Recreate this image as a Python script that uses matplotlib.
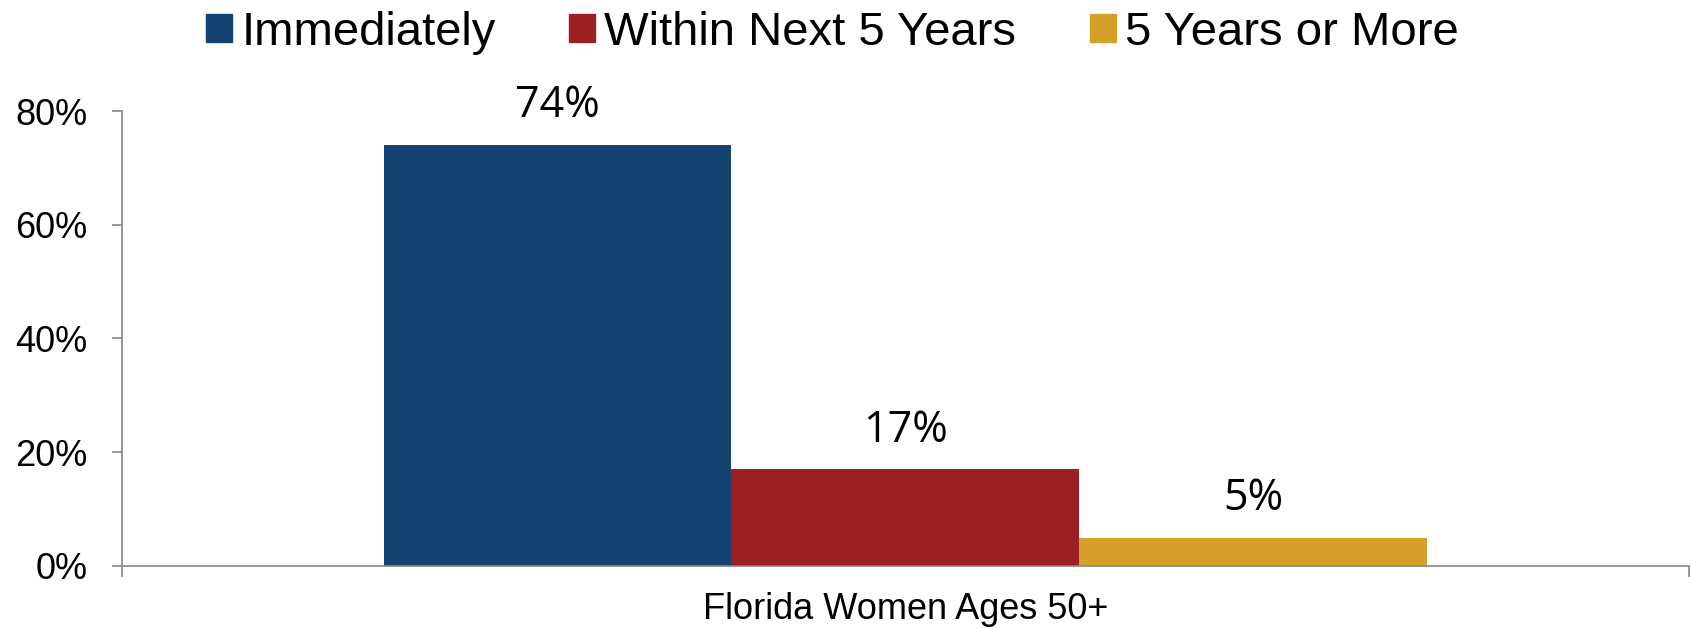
import numpy as np
import matplotlib.pyplot as plt
from matplotlib.patches import Rectangle

# data
category = 'Florida Women Ages 50+'
series = ['Immediately', 'Within Next 5 Years', '5 Years or More']
values = [0.74, 0.17, 0.05]
labels = ['74%', '17%', '5%']
colors = ['#144372', '#9B2023', '#D4A02A']
yticks = [0, 0.2, 0.4, 0.6, 0.8]
ytick_labels = ['0%', '20%', '40%', '60%', '80%']

plt.rcParams['font.family'] = ['Liberation Sans', 'DejaVu Sans']

fig = plt.figure(figsize=(16.92, 6.29), dpi=100)
ax = fig.add_axes([0.0721, 0.1002, 0.9259, 0.7233])

width = 0.222
offsets = (np.arange(len(series)) - 1) * width
for off, v, lab, c, name in zip(offsets, values, labels, colors, series):
    ax.bar(off, v, width=width, color=c, label=name)
    ax.annotate(lab, (off, v), xytext=(0, 12), textcoords='offset points',
                ha='center', va='bottom', fontsize=31, family='Open Sans')

ax.set_xlim(-0.5, 0.5)
ax.set_ylim(0, 0.8)
ax.set_yticks(yticks)
ax.set_yticklabels(ytick_labels, fontsize=26)
ax.set_xticks([0])
ax.set_xticklabels([category], fontsize=26)
ax.tick_params(axis='x', length=0, pad=19)
ax.set_xticks([-0.5, 0.5], minor=True)
ax.tick_params(axis='x', which='minor', length=8, color='#868686', width=1.2)
ax.tick_params(axis='y', length=7, color='#868686', width=1.2, pad=18)

for s in ['top', 'right']:
    ax.spines[s].set_visible(False)
for s in ['left', 'bottom']:
    ax.spines[s].set_color('#868686')
    ax.spines[s].set_linewidth(1.2)

handles = [Rectangle((0, 0), 1, 1, color=c) for c in colors]
fig.legend(handles, series, loc='center', bbox_to_anchor=(0.492, 0.948), ncol=3,
           frameon=False, fontsize=34, handlelength=0.55, handleheight=0.55,
           handletextpad=0.2, columnspacing=1.55, borderpad=0)

fig.savefig('out.png', dpi=100)
